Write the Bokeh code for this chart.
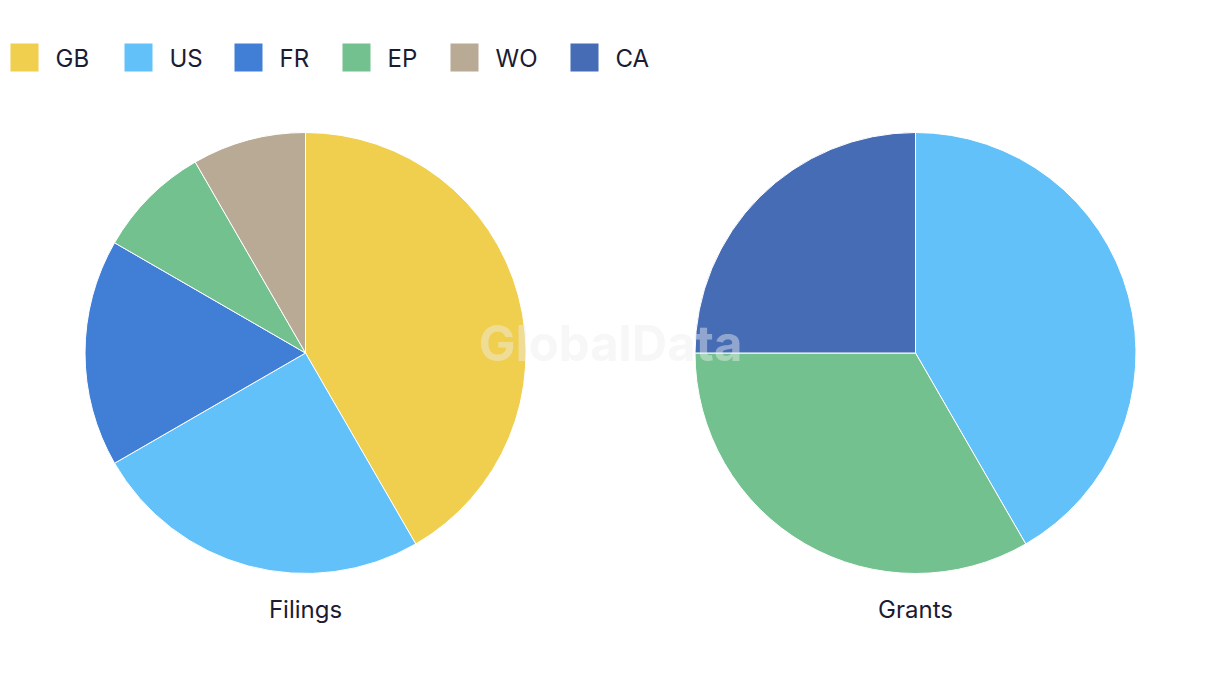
import math
from bokeh.plotting import figure
from bokeh.models import ColumnDataSource, Range1d
from bokeh.core.properties import value
from bokeh.embed import file_html
from bokeh.resources import INLINE

# ---- data ----
legend_labels = ["GB", "US", "FR", "EP", "WO", "CA"]
legend_colors = ["#F0CE4E", "#62C1F9", "#417ED6", "#72C18F", "#B9AA95", "#456CB5"]

filings_cats = ["GB", "US", "FR", "EP", "WO"]
filings_vals = [5, 3, 2, 1, 1]

grants_cats = ["US", "EP", "CA"]
grants_vals = [5, 4, 3]

pie_titles = ["Filings", "Grants"]

W, H = 1220, 686
FONT = "Inter"
TXT = "#1b1b33"
color_of = dict(zip(legend_labels, legend_colors))

p = figure(width=W, height=H, output_backend="svg", toolbar_location=None,
           x_range=Range1d(0, W), y_range=Range1d(0, H), min_border=0)
p.axis.visible = False
p.grid.visible = False
p.outline_line_color = None
p.background_fill_color = "white"
p.border_fill_color = "white"


def Y(ys):
    return H - ys


def pie(cats, vals, cx, cy, r):
    total = float(sum(vals))
    starts, ends = [], []
    cum = 0.0
    for v in vals:
        starts.append(math.pi / 2 - 2 * math.pi * cum / total)
        cum += v
        ends.append(math.pi / 2 - 2 * math.pi * cum / total)
    src = ColumnDataSource(dict(x=[cx] * len(vals), y=[Y(cy)] * len(vals),
                                start=starts, end=ends,
                                color=[color_of[c] for c in cats]))
    p.wedge(x="x", y="y", radius=r, start_angle="start", end_angle="end",
            direction="clock", fill_color="color", line_color="white",
            line_width=1, source=src)


R = 220.5
centers = [(305, 352.5), (915, 352.5)]
pie(filings_cats, filings_vals, centers[0][0], centers[0][1], R)
pie(grants_cats, grants_vals, centers[1][0], centers[1][1], R)

# pie titles
p.text(x=[c[0] for c in centers], y=[Y(609)] * 2, text=pie_titles,
       text_font=value(FONT), text_font_size="24px", text_color=TXT,
       text_align="center", text_baseline="middle")

# legend
sq_x = [10, 124, 234, 342, 450, 570]
p.rect(x=[x + 14 for x in sq_x], y=[Y(57)] * 6, width=28, height=28,
       fill_color=legend_colors, line_color=None)
p.text(x=[x + 45 for x in sq_x], y=[Y(57.5)] * 6, text=legend_labels,
       text_font=value(FONT), text_font_size="24px", text_color=TXT,
       text_align="left", text_baseline="middle")

# watermark
p.text(x=[610], y=[Y(343)], text=["GlobalData"], text_font=value(FONT),
       text_font_size="49px", text_font_style="bold", text_color="#eeeeee",
       text_alpha=0.45, text_align="center", text_baseline="middle")

open("out.html", "w").write(file_html(p, INLINE))
